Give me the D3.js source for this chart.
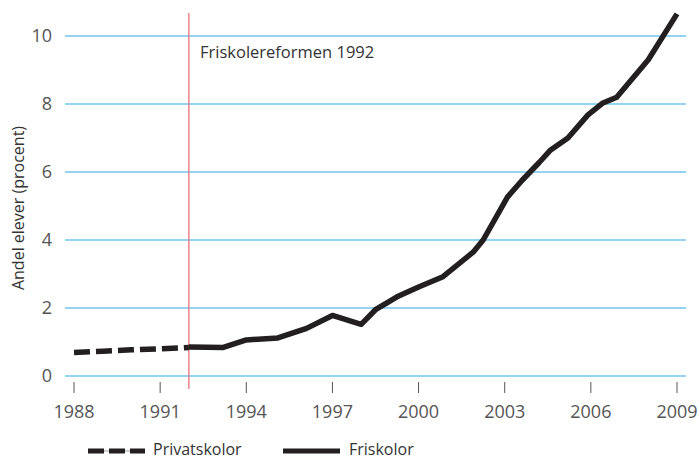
<!DOCTYPE html>
<html>
<head>
<meta charset="utf-8">
<script src="https://cdn.jsdelivr.net/npm/d3@7"></script>
<style>
  body { margin: 0; background: #fff; }
  svg { display: block; font-family: "Open Sans", sans-serif; }
</style>
</head>
<body>
<div id="chart"></div>
<script>
// Privatskolor (dashed), 1988-1992
const privYears = [1988, 1989, 1990, 1991, 1992];
const privValues = [0.69, 0.73, 0.77, 0.80, 0.84];

// Friskolor (solid)
const friYears = [1992, 1993.2, 1994, 1995.1, 1996.1, 1997, 1998, 1998.5, 1999.25, 2000, 2000.85, 2001.9, 2002.25, 2003.1, 2003.6, 2004.2, 2004.6, 2005.2, 2005.9, 2006.4, 2006.9, 2008, 2009];
const friValues = [0.85, 0.84, 1.06, 1.12, 1.40, 1.78, 1.52, 1.95, 2.33, 2.62, 2.92, 3.64, 4.0, 5.27, 5.75, 6.28, 6.65, 7.0, 7.68, 8.02, 8.2, 9.3, 10.65];

const xTicks = [1988, 1991, 1994, 1997, 2000, 2003, 2006, 2009];
const yTicks = [0, 2, 4, 6, 8, 10];
const reformYear = 1992;

const width = 699, height = 461;

const svg = d3.select("#chart").append("svg")
    .attr("width", width)
    .attr("height", height);

const x = d3.scaleLinear().domain([1988, 2009]).range([74, 677]);
const y = d3.scaleLinear().domain([0, 10]).range([376, 36]);

// horizontal grid lines
svg.append("g")
    .selectAll("line")
    .data(yTicks)
    .join("line")
    .attr("x1", 65)
    .attr("x2", 686)
    .attr("y1", d => y(d))
    .attr("y2", d => y(d))
    .attr("stroke", "#29abe2")
    .attr("stroke-width", 1.2);

// y tick labels
svg.append("g")
    .selectAll("text")
    .data(yTicks)
    .join("text")
    .attr("x", 52)
    .attr("y", d => y(d))
    .attr("dy", "0.35em")
    .attr("text-anchor", "end")
    .attr("font-size", 18)
    .attr("fill", "#555")
    .text(d => d);

// x ticks and labels
const xg = svg.append("g");
xg.selectAll("line")
    .data(xTicks)
    .join("line")
    .attr("x1", d => x(d))
    .attr("x2", d => x(d))
    .attr("y1", 382)
    .attr("y2", 393)
    .attr("stroke", "#555")
    .attr("stroke-width", 1);
xg.selectAll("text")
    .data(xTicks)
    .join("text")
    .attr("x", d => x(d))
    .attr("y", 418)
    .attr("text-anchor", "middle")
    .attr("font-size", 18)
    .attr("fill", "#555")
    .text(d => d);

// y axis title
svg.append("text")
    .attr("transform", "translate(24,208) rotate(-90)")
    .attr("text-anchor", "middle")
    .attr("font-size", 16)
    .attr("fill", "#333")
    .text("Andel elever (procent)");

// reform marker
svg.append("line")
    .attr("x1", x(reformYear))
    .attr("x2", x(reformYear))
    .attr("y1", 13)
    .attr("y2", 389)
    .attr("stroke", "#ee6f78")
    .attr("stroke-width", 1.3);

svg.append("text")
    .attr("x", 200)
    .attr("y", 58)
    .attr("font-size", 16.5)
    .attr("fill", "#333")
    .text("Friskolereformen 1992");

const line = d3.line()
    .x(d => x(d[0]))
    .y(d => y(d[1]));

svg.append("path")
    .datum(d3.zip(privYears, privValues))
    .attr("d", line)
    .attr("fill", "none")
    .attr("stroke", "#231f20")
    .attr("stroke-width", 5.5)
    .attr("stroke-dasharray", "16,6");

svg.append("path")
    .datum(d3.zip(friYears, friValues))
    .attr("d", line)
    .attr("fill", "none")
    .attr("stroke", "#231f20")
    .attr("stroke-width", 5.5)
    .attr("stroke-linejoin", "round");

// legend
const legend = svg.append("g");
legend.append("line")
    .attr("x1", 88).attr("x2", 145)
    .attr("y1", 451).attr("y2", 451)
    .attr("stroke", "#888")
    .attr("stroke-width", 0.8);
legend.append("line")
    .attr("x1", 88).attr("x2", 145)
    .attr("y1", 451).attr("y2", 451)
    .attr("stroke", "#231f20")
    .attr("stroke-width", 5)
    .attr("stroke-dasharray", "16,5");
legend.append("text")
    .attr("x", 153).attr("y", 455)
    .attr("font-size", 16)
    .attr("fill", "#333")
    .text("Privatskolor");
legend.append("line")
    .attr("x1", 283).attr("x2", 340)
    .attr("y1", 451).attr("y2", 451)
    .attr("stroke", "#231f20")
    .attr("stroke-width", 5);
legend.append("text")
    .attr("x", 349).attr("y", 455)
    .attr("font-size", 16)
    .attr("fill", "#333")
    .text("Friskolor");
</script>
</body>
</html>
